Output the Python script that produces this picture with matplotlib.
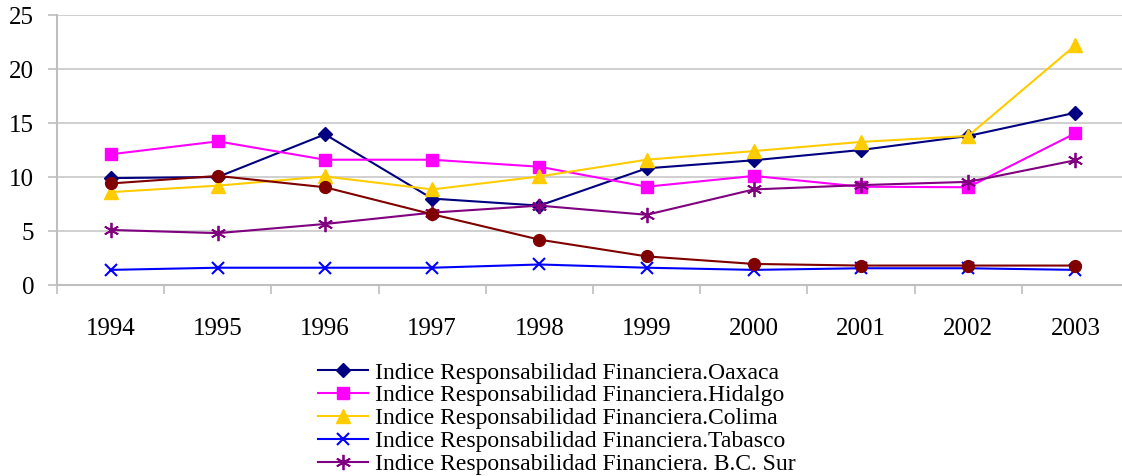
import matplotlib.pyplot as plt
import numpy as np

years = ['1994', '1995', '1996', '1997', '1998', '1999', '2000', '2001', '2002', '2003']
oaxaca = [9.9, 10.0, 13.95, 8.0, 7.35, 10.8, 11.55, 12.5, 13.8, 15.95]
hidalgo = [12.1, 13.3, 11.6, 11.6, 10.95, 9.1, 10.1, 9.1, 9.05, 14.05]
colima = [8.6, 9.2, 10.05, 8.85, 10.05, 11.6, 12.4, 13.25, 13.8, 22.2]
tabasco = [1.4, 1.6, 1.6, 1.6, 1.9, 1.6, 1.4, 1.55, 1.55, 1.4]
bcsur = [5.1, 4.8, 5.65, 6.7, 7.35, 6.5, 8.85, 9.25, 9.55, 11.55]
otro = [9.4, 10.1, 9.05, 6.55, 4.2, 2.65, 1.95, 1.8, 1.8, 1.8]

plt.rcParams['font.family'] = ['Liberation Serif', 'DejaVu Serif']

fig = plt.figure(figsize=(11.22, 4.76), dpi=100)
ax = fig.add_axes([57/1122, 1-285/476, 1072/1122, 270/476])

x = np.arange(len(years))
ax.plot(x, oaxaca, color='#000080', marker='D', ms=7.5, lw=1.5, label='Indice Responsabilidad Financiera.Oaxaca')
ax.plot(x, hidalgo, color='#FF00FF', marker='s', ms=8.5, lw=1.5, label='Indice Responsabilidad Financiera.Hidalgo')
ax.plot(x, colima, color='#FFCC00', marker='^', ms=10, lw=1.5, label='Indice Responsabilidad Financiera.Colima')
ax.plot(x, tabasco, color='#0000FF', marker='x', ms=9, mew=1.5, lw=1.5, label='Indice Responsabilidad Financiera.Tabasco')
ax.plot(x, bcsur, color='#800080', marker=(6, 2, 0), ms=11, mew=1.3, lw=1.5, label='Indice Responsabilidad Financiera. B.C. Sur')
ax.plot(x, otro, color='#800000', marker='o', ms=8.5, lw=1.5)

ax.set_xlim(-0.5, len(years) - 0.5)
ax.set_ylim(0, 25)
ax.set_yticks([0, 5, 10, 15, 20, 25])
ax.set_xticks(x)
ax.set_xticklabels(years)
ax.set_xticks(np.arange(len(years) + 1) - 0.5, minor=True)
ax.tick_params(axis='x', which='major', length=0, pad=24, labelsize=18)
ax.tick_params(axis='x', which='minor', length=6.5, color='#BFBFBF', width=1.2)
ax.tick_params(axis='y', length=6.5, color='#BFBFBF', width=1.2, pad=10, labelsize=18)
ax.grid(axis='y', color='#C8C8C8', lw=1.2)
ax.set_axisbelow(True)
for s in ['top', 'right']:
    ax.spines[s].set_visible(False)
for s in ['left', 'bottom']:
    ax.spines[s].set_color('#BFBFBF')
    ax.spines[s].set_linewidth(1.5)

handles, labels = ax.get_legend_handles_labels()
fig.legend(handles, labels, loc='upper left', bbox_to_anchor=(318/1122, 1-362/476),
           frameon=False, fontsize=17, handlelength=2.1, labelspacing=0.06,
           handletextpad=0.3, borderaxespad=0, borderpad=0)

fig.savefig('out.png', dpi=100)
